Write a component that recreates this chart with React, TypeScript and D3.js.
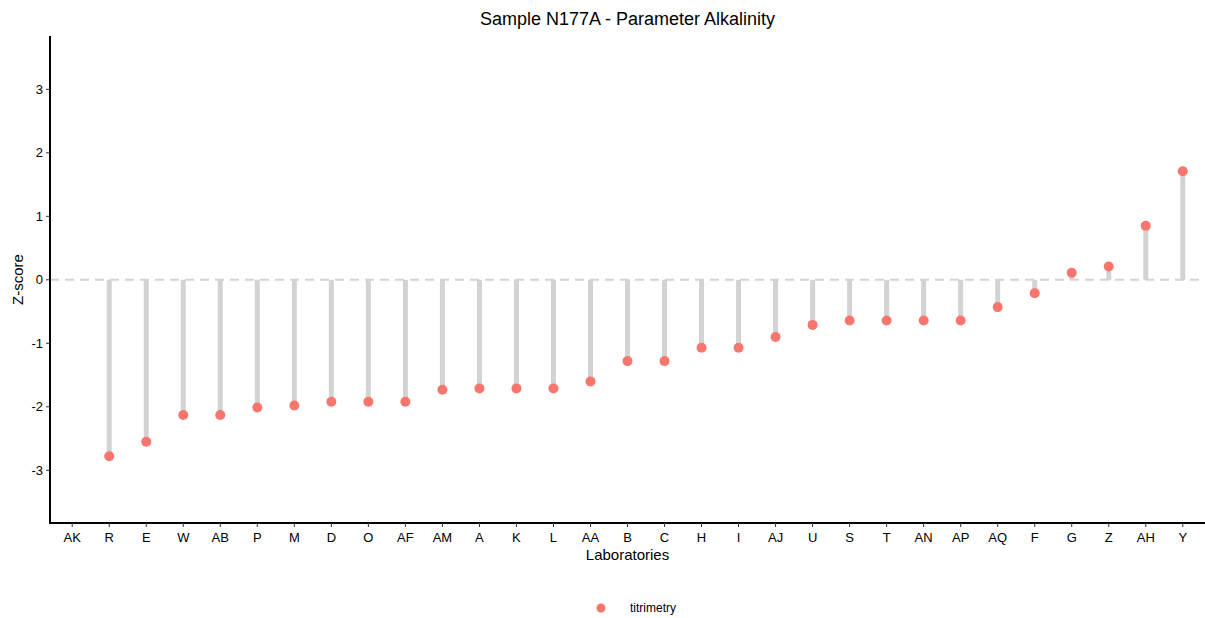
import React from "react";
import * as d3 from "d3";

const labs = ["AK","R","E","W","AB","P","M","D","O","AF","AM","A","K","L","AA","B","C","H","I","AJ","U","S","T","AN","AP","AQ","F","G","Z","AH","Y"];
const zscores: (number | null)[] = [null,-2.78,-2.55,-2.13,-2.13,-2.01,-1.98,-1.92,-1.92,-1.92,-1.73,-1.71,-1.71,-1.71,-1.60,-1.28,-1.28,-1.07,-1.07,-0.90,-0.71,-0.64,-0.64,-0.64,-0.64,-0.43,-0.21,0.11,0.21,0.85,1.71];
const yTicks = [-3,-2,-1,0,1,2,3];
const methodName = "titrimetry";

const W = 1205, H = 618;
const left = 50, right = 1205, top = 36, bottom = 523;
const font = "'Liberation Sans', Arial, sans-serif";

export default function App() {
  const x = d3.scalePoint<string>().domain(labs).range([left, right]).padding(0.6);
  const y = d3.scaleLinear().domain([-3.83, 3.84]).range([bottom, top]);
  const col = "#F8766D";
  return (
    <svg width={W} height={H} style={{ position: "absolute", left: 0, top: 0, fontFamily: font }}>
      <rect width={W} height={H} fill="#fff" />
      <text x={(left + right) / 2} y={25} textAnchor="middle" fontSize={18} fill="#000">Sample N177A - Parameter Alkalinity</text>
      <line x1={left} x2={right} y1={y(0)} y2={y(0)} stroke="#d3d3d3" strokeWidth={2} strokeDasharray="9,6" />
      {labs.map((l, i) => {
        const v = zscores[i];
        if (v == null) return null;
        return <line key={"s" + l} x1={x(l)} x2={x(l)} y1={y(0)} y2={y(v)} stroke="#d3d3d3" strokeWidth={5} />;
      })}
      {labs.map((l, i) => {
        const v = zscores[i];
        if (v == null) return null;
        return <circle key={"p" + l} cx={x(l)} cy={y(v)} r={5} fill={col} />;
      })}
      <line x1={left} x2={left} y1={top} y2={bottom + 1} stroke="#000" strokeWidth={2} />
      <line x1={left - 1} x2={right} y1={bottom} y2={bottom} stroke="#000" strokeWidth={2} />
      {yTicks.map(t => (
        <g key={"y" + t}>
          <line x1={left - 4} x2={left} y1={y(t)} y2={y(t)} stroke="#333" strokeWidth={1} />
          <text x={left - 7} y={y(t)} dy="0.35em" textAnchor="end" fontSize={13} fill="#000">{t}</text>
        </g>
      ))}
      {labs.map(l => (
        <g key={"x" + l}>
          <line x1={x(l)} x2={x(l)} y1={bottom} y2={bottom + 4} stroke="#333" strokeWidth={1} />
          <text x={x(l)} y={bottom + 19} textAnchor="middle" fontSize={13} fill="#000">{l}</text>
        </g>
      ))}
      <text x={(left + right) / 2} y={560} textAnchor="middle" fontSize={15} fill="#000">Laboratories</text>
      <text transform={`translate(23,${(top + bottom) / 2}) rotate(-90)`} textAnchor="middle" fontSize={15} fill="#000">Z-score</text>
      <circle cx={601} cy={608} r={4.5} fill={col} />
      <text x={630} y={612} fontSize={12} fill="#000">{methodName}</text>
    </svg>
  );
}
